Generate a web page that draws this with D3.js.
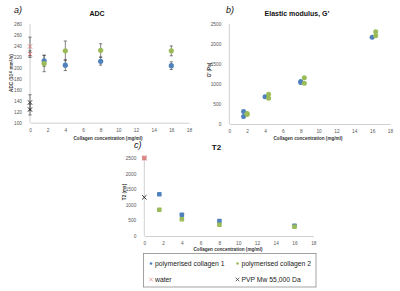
<!DOCTYPE html>
<html><head><meta charset="utf-8">
<script src="https://cdn.jsdelivr.net/npm/d3@7"></script>
<style>
body{margin:0;background:#fff;}
svg{display:block;font-family:"Liberation Sans",Arial,sans-serif;}
</style></head>
<body><svg id="c" width="400" height="291"></svg>
<script>
// ---- data ----
const xTicks = [0,2,4,6,8,10,12,14,16,18];
// ADC panel
const adcTicks = [100,120,140,160,180,200,220,240,260,280];
const adcC1x = [1.6,4,8,16], adcC1 = [213,205,212,204], adcC1err = [10,10,7,7];
const adcC2x = [1.6,4,8,16], adcC2 = [208,231,232,231], adcC2err = [15,18,12,9];
const adcWaterX = [0,0], adcWater = [239,225], adcWaterErr = [17,6];
const adcPvpX = [0,0], adcPvp = [137,124], adcPvpErr = [14,10];
// G' panel
const gTicks = [0,500,1000,1500,2000,2500];
const gC1x = [1.6,1.6,4,8,8,16], gC1 = [310,185,683,1065,1035,2167];
const gC2x = [2,2,4.4,4.4,8.4,8.4,16.4,16.4], gC2 = [260,240,742,645,1158,1017,2308,2208];
// T2 panel
const t2Ticks = [0,500,1000,1500,2000,2500];
const t2C1x = [1.6,4,8,16], t2C1 = [1337,683,480,330];
const t2C2x = [1.6,4,8,16], t2C2 = [843,535,362,298];
const t2WaterX = [0], t2Water = [2500];
const t2PvpX = [0], t2Pvp = [1240];
// legend
const legendLabels = ["polymerised collagen 1","polymerised collagen 2","water","PVP Mw 55,000 Da"];

const BLUE = "#4f81bd", GREEN = "#9bbb59", RED = "#e07b7b", BLACK = "#222";
const svg = d3.select("#c");

function panel(o){
  const g = svg.append("g");
  const x = d3.scaleLinear().domain([0,18]).range([o.x0,o.x1]);
  const y = d3.scaleLinear().domain(o.ydom).range([o.y0,o.y1]);
  const xa = d3.axisBottom(x).tickValues(xTicks).tickSize(0).tickPadding(6).tickFormat(d3.format("d"));
  const ya = d3.axisLeft(y).tickValues(o.yticks).tickSize(0).tickPadding(8).tickFormat(d3.format("d"));
  const gx = g.append("g").attr("transform",`translate(0,${o.y0})`).call(xa);
  const gy = g.append("g").attr("transform",`translate(${o.x0},0)`).call(ya);
  [gx,gy].forEach(a=>{
    a.select(".domain").attr("stroke","#d0d0d0").attr("stroke-width",1);
    a.selectAll("text").attr("fill","#595959").style("font-size","4.8px");
  });
  gy.select(".domain").remove();
  g.append("line").attr("x1",o.x0).attr("x2",o.x0).attr("y1",o.y0).attr("y2",o.y1)
    .attr("stroke","#d0d0d0");
  g.append("text").attr("x",o.tx).attr("y",o.ty).attr("text-anchor","middle")
    .style("font-size",o.tsize||"7px").style("font-weight","bold").attr("fill","#111").text(o.title);
  g.append("text").attr("x",o.lx).attr("y",o.ly)
    .style("font-size","9px").style("font-style","italic").attr("fill","#111").text(o.letter);
  g.append("text").attr("x",o.xlx).attr("y",o.xly).attr("text-anchor","middle")
    .style("font-size","4.6px").style("font-weight","bold").attr("fill","#333").text("Collagen concentration (mg/ml)");
  const yl = g.append("text").attr("transform",`translate(${o.ylx},${o.yly}) rotate(-90)`)
    .attr("text-anchor","middle").style("font-size","4.6px").style("font-weight","bold").attr("fill","#333");
  o.ylabel(yl);
  return {g,x,y};
}

function errbars(p, xs, ys, es){
  const g = p.g.append("g").attr("stroke","#333").attr("stroke-width",0.6);
  xs.forEach((xv,i)=>{
    const cx = p.x(xv), t = p.y(ys[i]+es[i]), b = p.y(ys[i]-es[i]);
    g.append("line").attr("x1",cx).attr("x2",cx).attr("y1",t).attr("y2",b);
    g.append("line").attr("x1",cx-1.6).attr("x2",cx+1.6).attr("y1",t).attr("y2",t);
    g.append("line").attr("x1",cx-1.6).attr("x2",cx+1.6).attr("y1",b).attr("y2",b);
  });
}
function dots(p, xs, ys, col, r, shape){
  xs.forEach((xv,i)=>{
    if(shape==="sq"){
      p.g.append("rect").attr("x",p.x(xv)-r).attr("y",p.y(ys[i])-r).attr("width",2*r).attr("height",2*r)
        .attr("rx",0.8).attr("fill",col);
    } else {
      p.g.append("circle").attr("cx",p.x(xv)).attr("cy",p.y(ys[i])).attr("r",r).attr("fill",col);
    }
  });
}
function crosses(p, xs, ys, col){
  xs.forEach((xv,i)=>{
    const cx=p.x(xv), cy=p.y(ys[i]), s=2.2;
    p.g.append("path").attr("d",`M${cx-s},${cy-s}L${cx+s},${cy+s}M${cx-s},${cy+s}L${cx+s},${cy-s}`)
      .attr("stroke",col).attr("stroke-width",0.9).attr("fill","none");
  });
}

// Panel a
const pa = panel({x0:30,x1:189,y0:122.7,y1:24,ydom:[100,280],yticks:adcTicks,
  title:"ADC",tx:97,ty:16,letter:"a)",lx:14,ly:13,xlx:108,xly:139.5,ylx:13,yly:73,
  ylabel:t=>{t.append("tspan").text("ADC (10");t.append("tspan").attr("dy","-1.5").style("font-size","3.5px").text("-6");
    t.append("tspan").attr("dy","1.5").text(" mm");t.append("tspan").attr("dy","-1.5").style("font-size","3.5px").text("2");
    t.append("tspan").attr("dy","1.5").text("/s)");}});
errbars(pa, adcWaterX, adcWater, adcWaterErr);
errbars(pa, adcPvpX, adcPvp, adcPvpErr);
errbars(pa, adcC1x, adcC1, adcC1err);
errbars(pa, adcC2x, adcC2, adcC2err);
dots(pa, adcC1x, adcC1, BLUE, 2.6);
dots(pa, adcC2x, adcC2, GREEN, 2.6);
crosses(pa, adcWaterX, adcWater, RED);
crosses(pa, adcPvpX, adcPvp, BLACK);

// Panel b
const pb = panel({x0:229.3,x1:390,y0:124,y1:24,ydom:[0,2500],yticks:gTicks,
  title:"Elastic modulus, G\u2019",tx:297,ty:16,letter:"b)",lx:226,ly:13,xlx:308,xly:139.5,ylx:211,yly:70,
  ylabel:t=>t.text("G\u2019 (Pa)")});
dots(pb, gC1x, gC1, BLUE, 2.5);
dots(pb, gC2x, gC2, GREEN, 2.5);

// Panel c
const pc = panel({x0:144.3,x1:313.3,y0:236,y1:158,ydom:[0,2500],yticks:t2Ticks,
  title:"T2",tx:216.5,ty:150,tsize:"8px",letter:"c)",lx:134,ly:148,xlx:228,xly:251,ylx:126,yly:192,
  ylabel:t=>t.text("T2 (ms)")});
dots(pc, t2C1x, t2C1, BLUE, 2.3, "sq");
dots(pc, t2C2x, t2C2, GREEN, 2.3, "sq");
pc.g.append("rect").attr("x",pc.x(0)-2.3).attr("y",pc.y(t2Water[0])-2.3).attr("width",4.6).attr("height",4.6).attr("fill","#c0504d").attr("opacity",0.6);
crosses(pc, t2WaterX, t2Water, RED);
crosses(pc, t2PvpX, t2Pvp, BLACK);

// Legend
const lg = svg.append("g");
lg.append("rect").attr("x",143.5).attr("y",253.5).attr("width",172.5).attr("height",33.5)
  .attr("fill","#fff").attr("stroke","#8c8c8c").attr("stroke-width",0.8);
const lpos = [[151,263.5],[237.5,263.5],[151,279.5],[237.5,279.5]];
legendLabels.forEach((lab,i)=>{
  const [lx,ly]=lpos[i];
  if(i<2){ lg.append("circle").attr("cx",lx).attr("cy",ly).attr("r",1.3).attr("fill",i===0?BLUE:GREEN); }
  else { const s=1.8, col=i===2?RED:BLACK;
    lg.append("path").attr("d",`M${lx-s},${ly-s}L${lx+s},${ly+s}M${lx-s},${ly+s}L${lx+s},${ly-s}`)
      .attr("stroke",col).attr("stroke-width",0.7); }
  lg.append("text").attr("x",lx+4).attr("y",ly+2.4).style("font-size","6.8px").attr("fill","#222").text(lab);
});
</script></body></html>
